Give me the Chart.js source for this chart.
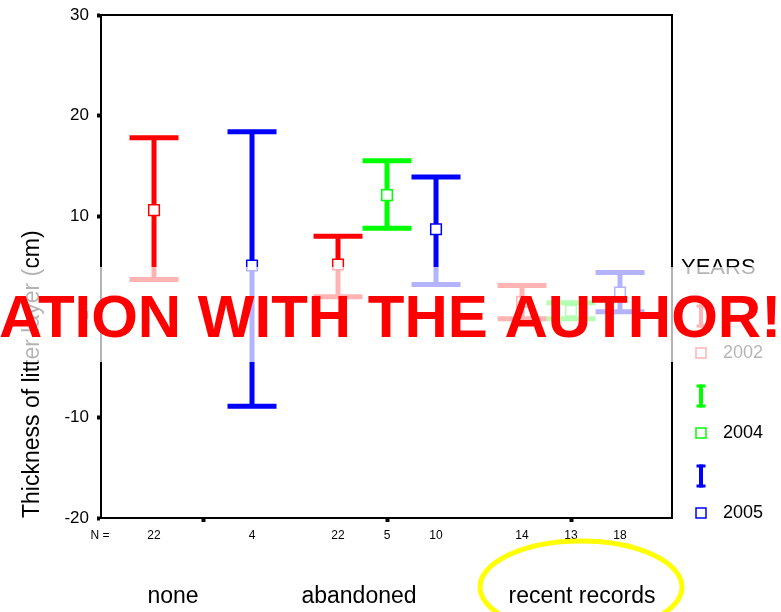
<!DOCTYPE html>
<html>
<head>
<meta charset="utf-8">
<script src="https://cdn.jsdelivr.net/npm/chart.js@4.4.1/dist/chart.umd.min.js"></script>
<style>
  body { margin: 0; background: #fff; }
  #wrap { width: 781px; height: 612px; }
</style>
</head>
<body>
<div id="wrap"><canvas id="chart" width="781" height="612"></canvas></div>
<script>
// data
const groups = ['none', 'abandoned', 'recent records'];
const years = ['2002', '2004', '2005'];
const yTicks = [-20, -10, 0, 10, 20, 30];

const mean2002  = [10.6, 5.2, 1.5];
const lower2002 = [3.7, 2.0, -0.2];
const upper2002 = [17.8, 8.0, 3.1];
const n2002     = [22, 22, 14];

const mean2004  = [null, 12.1, 0.6];
const lower2004 = [null, 8.8, -0.2];
const upper2004 = [null, 15.5, 1.4];
const n2004     = [null, 5, 13];

const mean2005  = [5.1, 8.7, 2.4];
const lower2005 = [-8.9, 3.2, 0.5];
const upper2005 = [18.4, 13.9, 4.4];
const n2005     = [4, 10, 18];

// layout / style
const colors = ['#ff0000', '#00ff00', '#0000ff'];
const GROUP_STEP = 184 / 49;           // group spacing in bar slots
const labelShift = [-30, -28, 11];     // SPSS puts group names a bit off-centre
const FONT = '"Liberation Sans", Arial, sans-serif';

const series = [
  { year: years[0], mean: mean2002, lower: lower2002, upper: upper2002, n: n2002, color: colors[0] },
  { year: years[1], mean: mean2004, lower: lower2004, upper: upper2004, n: n2004, color: colors[1] },
  { year: years[2], mean: mean2005, lower: lower2005, upper: upper2005, n: n2005, color: colors[2] }
];

const slotX = (gi, si) => gi * GROUP_STEP + (si - 1);

const datasets = [];
series.forEach((s, si) => {
  const stems = [], caps = [], means = [];
  groups.forEach((g, gi) => {
    if (s.mean[gi] == null) return;
    const x = slotX(gi, si);
    stems.push({ x, y: s.lower[gi] }, { x, y: s.upper[gi] }, { x, y: null });
    caps.push({ x, y: s.lower[gi] }, { x, y: s.upper[gi] });
    means.push({ x, y: s.mean[gi] });
  });
  datasets.push({
    label: s.year + ' ci', data: stems, showLine: true, spanGaps: false,
    borderColor: s.color, borderWidth: 5, pointRadius: 0, order: 3
  });
  datasets.push({
    label: s.year + ' caps', data: caps, pointStyle: 'line', pointRadius: 24.5,
    borderColor: s.color, borderWidth: 5, order: 2
  });
  datasets.push({
    label: s.year, data: means, pointStyle: 'rect', pointRadius: 7.5,
    borderColor: s.color, backgroundColor: '#fff', borderWidth: 1.5, order: 1
  });
});

const decor = {
  id: 'decor',
  beforeDatasetsDraw(chart) {
    const { ctx, chartArea: a } = chart;
    ctx.save();
    ctx.strokeStyle = '#000';
    ctx.lineWidth = 2;
    ctx.beginPath();
    ctx.moveTo(a.left, a.top);
    ctx.lineTo(a.right, a.top);
    ctx.lineTo(a.right, a.bottom);
    ctx.stroke();
    ctx.restore();
  },
  afterDraw(chart) {
    const { ctx } = chart;
    const xs = chart.scales.x;
    ctx.save();

    // N = row
    ctx.fillStyle = '#000';
    ctx.font = '12px ' + FONT;
    ctx.textAlign = 'center';
    ctx.textBaseline = 'middle';
    ctx.fillText('N =', 100, 536);
    groups.forEach((g, gi) => {
      series.forEach((s, si) => {
        if (s.n[gi] == null) return;
        ctx.fillText(String(s.n[gi]), xs.getPixelForValue(slotX(gi, si)), 536);
      });
    });

    // group names
    ctx.font = '23px ' + FONT;
    ctx.textBaseline = 'alphabetic';
    groups.forEach((g, gi) => {
      ctx.fillText(g, xs.getPixelForValue(gi * GROUP_STEP) + labelShift[gi], 603);
    });

    // legend
    ctx.textAlign = 'left';
    ctx.font = '22px ' + FONT;
    ctx.fillText('YEARS', 681, 274);
    ctx.font = '18px ' + FONT;
    ctx.textBaseline = 'middle';
    series.forEach((s, i) => {
      const iy = 316 + 80 * i, sy = 353 + 80 * i;
      ctx.fillStyle = s.color;
      ctx.fillRect(699, iy - 11.5, 4, 23);
      ctx.fillRect(696.5, iy - 11.5, 9, 3);
      ctx.fillRect(696.5, iy + 8.5, 9, 3);
      ctx.strokeStyle = s.color;
      ctx.lineWidth = 1.5;
      ctx.strokeRect(696, sy - 5, 10, 10);
      ctx.fillStyle = '#000';
      ctx.fillText(s.year, 723, sy);
    });

    // the stamp across the figure
    ctx.fillStyle = 'rgba(255,255,255,0.7)';
    ctx.fillRect(0, 267, 781, 95);
    ctx.fillStyle = '#ff0000';
    ctx.font = 'bold 60px ' + FONT;
    ctx.textBaseline = 'alphabetic';
    ctx.fillText('ATION WITH THE AUTHOR!', -1, 337);

    // yellow ring
    ctx.strokeStyle = '#ffff00';
    ctx.lineWidth = 5;
    ctx.beginPath();
    ctx.ellipse(581, 587, 101, 46, 0, 0, Math.PI * 2);
    ctx.stroke();
    ctx.restore();
  }
};

new Chart(document.getElementById('chart'), {
  type: 'scatter',
  data: { datasets },
  options: {
    responsive: false,
    animation: false,
    events: [],
    layout: { autoPadding: false, padding: { top: 15, right: 109, left: 0, bottom: 0 } },
    plugins: { legend: { display: false }, tooltip: { enabled: false } },
    scales: {
      x: {
        type: 'linear',
        min: -2.082,
        max: 9.571,
        afterBuildTicks: sc => { sc.ticks = groups.map((g, gi) => ({ value: gi * GROUP_STEP })); },
        afterFit: sc => { sc.height = 94; sc.paddingLeft = 0; sc.paddingRight = 0; },
        ticks: { display: false },
        grid: { drawOnChartArea: false, tickLength: 4, tickWidth: 4, tickColor: '#000' },
        border: { color: '#000', width: 2 }
      },
      y: {
        min: yTicks[0],
        max: yTicks[yTicks.length - 1],
        afterBuildTicks: sc => { sc.ticks = yTicks.map(v => ({ value: v })); },
        afterFit: sc => { sc.width = 101; sc.paddingTop = 0; sc.paddingBottom = 0; },
        ticks: { color: '#000', padding: 8, font: { family: FONT, size: 17 } },
        grid: { drawOnChartArea: false, tickLength: 4, tickWidth: 4, tickColor: '#000' },
        border: { color: '#000', width: 2 },
        title: {
          display: true, text: 'Thickness of litter layer (cm)', align: 'start',
          color: '#000', font: { family: FONT, size: 23 }, padding: { top: 19, bottom: 0 }
        }
      }
    }
  },
  plugins: [decor]
});
</script>
</body>
</html>
